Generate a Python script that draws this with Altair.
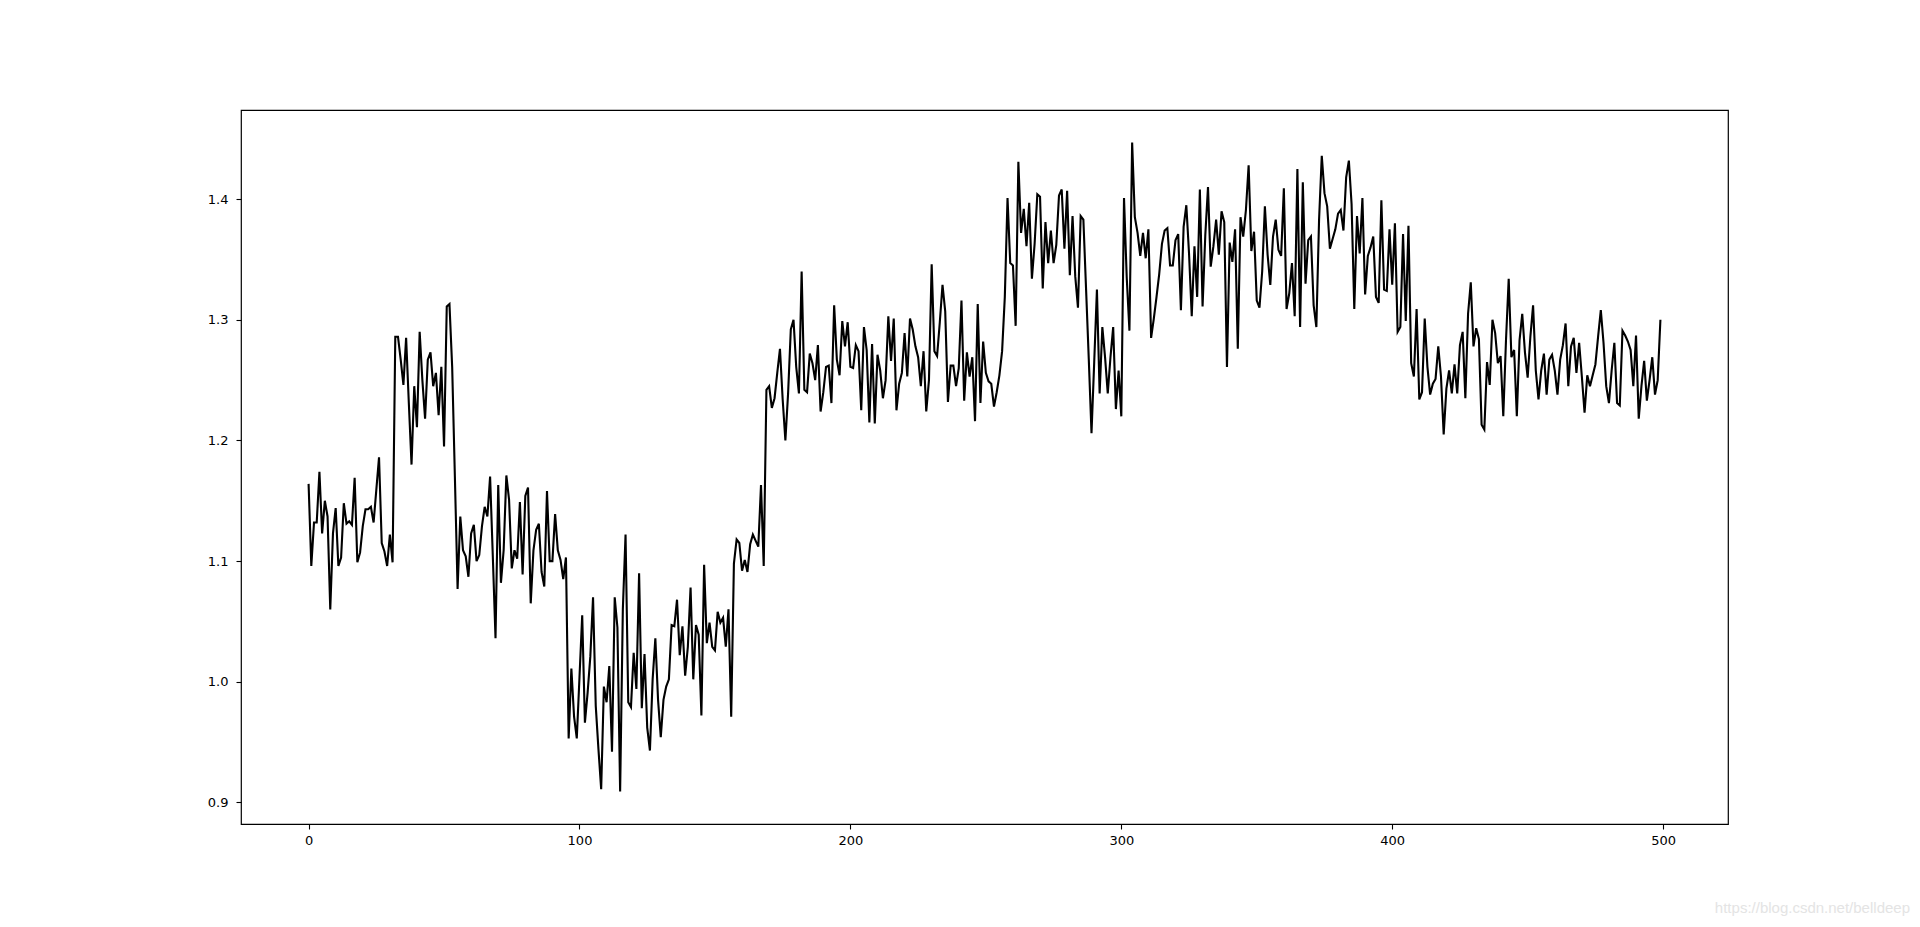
import altair as alt
import pandas as pd

values = [
    1.164, 1.096, 1.132, 1.132, 1.174, 1.123, 1.150, 1.137, 1.060, 1.123,
    1.144, 1.096, 1.103, 1.148, 1.131, 1.133, 1.130, 1.169, 1.099, 1.107,
    1.129, 1.143, 1.143, 1.145, 1.132, 1.159, 1.186, 1.115, 1.108, 1.096,
    1.122, 1.099, 1.286, 1.286, 1.267, 1.246, 1.285, 1.231, 1.180, 1.245,
    1.211, 1.290, 1.250, 1.218, 1.267, 1.273, 1.245, 1.256, 1.221, 1.261,
    1.195, 1.311, 1.313, 1.261, 1.170, 1.077, 1.137, 1.109, 1.104, 1.087,
    1.123, 1.130, 1.100, 1.105, 1.129, 1.145, 1.137, 1.170, 1.104, 1.036,
    1.163, 1.082, 1.109, 1.171, 1.151, 1.094, 1.109, 1.102, 1.149, 1.089,
    1.154, 1.161, 1.065, 1.109, 1.126, 1.131, 1.091, 1.079, 1.158, 1.100,
    1.100, 1.139, 1.109, 1.101, 1.085, 1.103, 0.953, 1.011, 0.971, 0.953,
    1.004, 1.055, 0.966, 0.991, 1.021, 1.070, 0.980, 0.944, 0.911, 0.996,
    0.983, 1.013, 0.942, 1.070, 1.045, 0.909, 1.060, 1.122, 0.983, 0.979,
    1.024, 0.994, 1.090, 0.978, 1.023, 0.962, 0.943, 1.002, 1.036, 0.985,
    0.954, 0.985, 0.996, 1.002, 1.047, 1.046, 1.068, 1.022, 1.046, 1.005,
    1.029, 1.078, 1.002, 1.047, 1.039, 0.972, 1.097, 1.032, 1.049, 1.029,
    1.026, 1.058, 1.049, 1.053, 1.029, 1.060, 0.971, 1.098, 1.118, 1.115,
    1.092, 1.101, 1.091, 1.114, 1.122, 1.117, 1.112, 1.163, 1.096, 1.242,
    1.245, 1.227, 1.235, 1.256, 1.276, 1.234, 1.200, 1.239, 1.292, 1.300,
    1.261, 1.239, 1.340, 1.242, 1.240, 1.272, 1.264, 1.250, 1.279, 1.224,
    1.240, 1.261, 1.262, 1.231, 1.312, 1.267, 1.254, 1.299, 1.278, 1.298,
    1.261, 1.260, 1.279, 1.274, 1.225, 1.294, 1.275, 1.215, 1.280, 1.214,
    1.271, 1.258, 1.235, 1.250, 1.303, 1.266, 1.301, 1.225, 1.247, 1.256,
    1.289, 1.253, 1.301, 1.292, 1.278, 1.269, 1.245, 1.274, 1.224, 1.250,
    1.346, 1.274, 1.270, 1.298, 1.329, 1.307, 1.232, 1.262, 1.262, 1.245,
    1.260, 1.316, 1.233, 1.273, 1.253, 1.269, 1.216, 1.313, 1.231, 1.282,
    1.256, 1.249, 1.247, 1.228, 1.240, 1.254, 1.274, 1.319, 1.401, 1.347,
    1.345, 1.295, 1.431, 1.372, 1.392, 1.361, 1.397, 1.334, 1.363, 1.404,
    1.402, 1.326, 1.381, 1.347, 1.374, 1.347, 1.362, 1.403, 1.408, 1.359,
    1.407, 1.337, 1.386, 1.336, 1.310, 1.386, 1.383, 1.325, 1.267, 1.206,
    1.265, 1.325, 1.239, 1.294, 1.269, 1.239, 1.269, 1.294, 1.226, 1.258,
    1.220, 1.401, 1.335, 1.291, 1.447, 1.385, 1.372, 1.353, 1.372, 1.351,
    1.375, 1.285, 1.301, 1.319, 1.338, 1.363, 1.374, 1.376, 1.345, 1.345,
    1.366, 1.371, 1.308, 1.377, 1.395, 1.355, 1.303, 1.361, 1.319, 1.408,
    1.311, 1.370, 1.410, 1.344, 1.361, 1.383, 1.354, 1.390, 1.381, 1.261,
    1.364, 1.348, 1.375, 1.276, 1.385, 1.369, 1.391, 1.428, 1.357, 1.373,
    1.316, 1.310, 1.340, 1.394, 1.354, 1.329, 1.369, 1.383, 1.358, 1.353,
    1.409, 1.309, 1.322, 1.347, 1.303, 1.425, 1.294, 1.414, 1.330, 1.366,
    1.369, 1.312, 1.294, 1.383, 1.436, 1.405, 1.394, 1.359, 1.367, 1.375,
    1.388, 1.391, 1.374, 1.418, 1.432, 1.396, 1.309, 1.386, 1.355, 1.401,
    1.321, 1.353, 1.360, 1.369, 1.319, 1.314, 1.399, 1.325, 1.324, 1.375,
    1.329, 1.380, 1.290, 1.294, 1.371, 1.299, 1.378, 1.264, 1.253, 1.309,
    1.234, 1.240, 1.301, 1.261, 1.238, 1.247, 1.251, 1.278, 1.253, 1.205,
    1.243, 1.258, 1.239, 1.263, 1.239, 1.279, 1.290, 1.235, 1.305, 1.331,
    1.278, 1.293, 1.284, 1.213, 1.209, 1.265, 1.246, 1.300, 1.289, 1.264,
    1.270, 1.220, 1.283, 1.334, 1.269, 1.275, 1.220, 1.283, 1.305, 1.273,
    1.252, 1.286, 1.312, 1.258, 1.234, 1.258, 1.272, 1.238, 1.267, 1.271,
    1.258, 1.238, 1.267, 1.279, 1.297, 1.245, 1.278, 1.285, 1.256, 1.281,
    1.253, 1.223, 1.254, 1.245, 1.254, 1.263, 1.286, 1.308, 1.281, 1.245,
    1.231, 1.258, 1.281, 1.231, 1.229, 1.291, 1.287, 1.282, 1.275, 1.245,
    1.287, 1.218, 1.245, 1.266, 1.233, 1.250, 1.269, 1.238, 1.250, 1.300,
]
x_ticks = [0, 100, 200, 300, 400, 500]
y_ticks = [0.9, 1.0, 1.1, 1.2, 1.3, 1.4]
watermark = ["https://blog.csdn.net/belldeep"]

n = len(values)
df = pd.DataFrame({"step": list(range(n)), "value": values})
vmin, vmax = min(values), max(values)
span = vmax - vmin
xspan = n - 1
x_dom = [-0.05 * xspan, (n - 1) + 0.05 * xspan]
y_dom = [vmin - 0.05 * span, vmax + 0.05 * span]

axis_common = dict(
    title=None, grid=False, domain=False,
    ticks=True, tickColor="black", tickSize=5, tickWidth=1.1,
    labelColor="black", labelFontSize=13, labelFont="DejaVu Sans",
)

line = alt.Chart(df).mark_line(color="black", strokeWidth=2.1, clip=True).encode(
    x=alt.X("step:Q", scale=alt.Scale(domain=x_dom, nice=False, zero=False),
            axis=alt.Axis(values=x_ticks, format="d", labelPadding=5, **axis_common)),
    y=alt.Y("value:Q", scale=alt.Scale(domain=y_dom, nice=False, zero=False),
            axis=alt.Axis(values=y_ticks, format=".1f", labelPadding=8, **axis_common)),
)

wm = alt.Chart(pd.DataFrame({"t": watermark})).mark_text(
    align="right", baseline="middle", fontSize=15, font="Liberation Sans", color="#e4e4e4"
).encode(x=alt.value(1669), y=alt.value(798), text="t:N")

chart = alt.layer(line, wm).properties(
    width=1487, height=714,
    autosize=alt.AutoSizeParams(type="none"),
    padding={"left": 233, "top": 102, "right": 184, "bottom": 94},
).configure(
    background="white",
    view=alt.ViewConfig(stroke="black", strokeWidth=1.2),
)

chart.save("out.html", embed_options={"renderer": "svg", "actions": False})
